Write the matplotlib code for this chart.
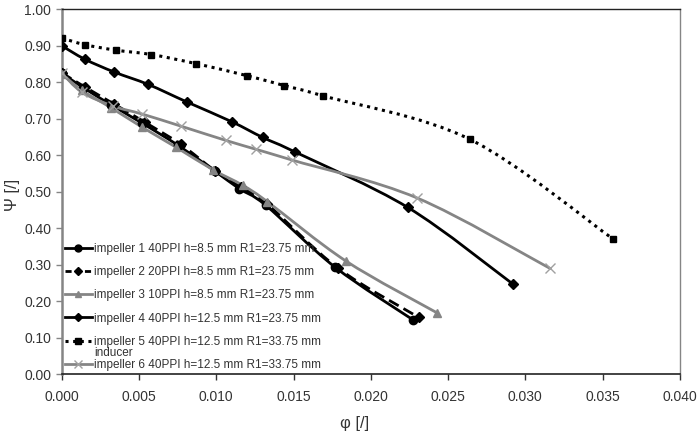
import numpy as np
import matplotlib
matplotlib.use("Agg")
import matplotlib.pyplot as plt
from matplotlib.path import Path
from matplotlib.patches import PathPatch
from matplotlib.lines import Line2D
from matplotlib.ticker import FormatStrFormatter, MultipleLocator

plt.rcParams["font.family"] = ["Liberation Sans", "DejaVu Sans"]

# impeller data: flow coefficient phi and head coefficient psi
phi_1 = [0.0, 0.0014, 0.0032, 0.0052, 0.0075, 0.0099, 0.0115, 0.0132, 0.0177, 0.0227]
psi_1 = [0.825, 0.785, 0.738, 0.688, 0.628, 0.557, 0.508, 0.463, 0.293, 0.150]

phi_2 = [0.0, 0.0015, 0.0034, 0.0054, 0.0077, 0.0099, 0.0116, 0.0133, 0.0179, 0.0231]
psi_2 = [0.826, 0.787, 0.740, 0.690, 0.630, 0.558, 0.512, 0.466, 0.290, 0.156]

phi_3 = [0.0, 0.0013, 0.0032, 0.0052, 0.0074, 0.0098, 0.0117, 0.0133, 0.0184, 0.0243]
psi_3 = [0.823, 0.778, 0.730, 0.677, 0.622, 0.560, 0.518, 0.473, 0.310, 0.168]

phi_4 = [0.0, 0.0015, 0.0034, 0.0056, 0.0081, 0.0110, 0.0130, 0.0151, 0.0224, 0.0292]
psi_4 = [0.900, 0.863, 0.828, 0.794, 0.746, 0.692, 0.649, 0.609, 0.457, 0.247]

phi_5 = [0.0, 0.0015, 0.0035, 0.0058, 0.0087, 0.0120, 0.0144, 0.0169, 0.0264, 0.0357]
psi_5 = [0.921, 0.903, 0.888, 0.876, 0.851, 0.818, 0.791, 0.763, 0.644, 0.370]

phi_6 = [0.0, 0.0013, 0.0033, 0.0052, 0.0077, 0.0106, 0.0126, 0.0149, 0.0230, 0.0316]
psi_6 = [0.826, 0.773, 0.735, 0.713, 0.680, 0.641, 0.616, 0.587, 0.483, 0.290]

labels = [
    "impeller 1 40PPI h=8.5 mm R1=23.75 mm",
    "impeller 2 20PPI h=8.5 mm R1=23.75 mm",
    "impeller 3 10PPI h=8.5 mm R1=23.75 mm",
    "impeller 4 40PPI h=12.5 mm R1=23.75 mm",
    "impeller 5 40PPI h=12.5 mm R1=33.75 mm",
    "impeller 6 40PPI h=12.5 mm R1=33.75 mm",
]


def smooth_path(x, y):
    # Excel-like smoothed line: Catmull-Rom segments drawn as cubic Bezier curves
    p = np.column_stack([x, y])
    verts = [p[0]]
    codes = [Path.MOVETO]
    n = len(p)
    for i in range(n - 1):
        p0 = p[i - 1] if i > 0 else p[i]
        p3 = p[i + 2] if i + 2 < n else p[i + 1]
        c1 = p[i] + (p[i + 1] - p0) / 6.0
        c2 = p[i + 1] - (p3 - p[i]) / 6.0
        verts += [c1, c2, p[i + 1]]
        codes += [Path.CURVE4] * 3
    return Path(verts, codes)


fig = plt.figure(figsize=(6.98, 4.34), dpi=100)
ax = fig.add_axes([0.0885, 0.1376, 0.8855, 0.841])

gray = "#858585"
styles = [
    (phi_1, psi_1, dict(color="black", ls="-", lw=2.0), dict(marker="o", ms=6, color="black")),
    (phi_2, psi_2, dict(color="black", ls=(0, (4, 2)), lw=2.0), dict(marker="D", ms=5, color="black")),
    (phi_3, psi_3, dict(color=gray, ls="-", lw=2.0), dict(marker="^", ms=6, color=gray)),
    (phi_4, psi_4, dict(color="black", ls="-", lw=2.0), dict(marker="D", ms=5, color="black")),
    (phi_5, psi_5, dict(color="black", ls=(0, (1, 1.5)), lw=2.2), dict(marker="s", ms=5, color="black")),
    (phi_6, psi_6, dict(color=gray, ls="-", lw=2.0), dict(marker="x", ms=7, mew=1.0, color="#a0a0a0")),
]
# shorter dash patterns so they show up on the short legend handles
legend_ls = ["-", (0, (2.2, 1.3)), "-", "-", (0, (1, 1.5)), "-"]

handles = []
for (x, y, lstyle, mstyle), lab, lls in zip(styles, labels, legend_ls):
    patch = PathPatch(smooth_path(x, y), fill=False, edgecolor=lstyle["color"],
                      linestyle=lstyle["ls"], linewidth=lstyle["lw"], zorder=2)
    ax.add_patch(patch)
    ax.plot(x, y, linestyle="none", zorder=3, **mstyle)
    handles.append(Line2D([], [], color=lstyle["color"], linestyle=lls,
                          linewidth=lstyle["lw"], marker=mstyle["marker"],
                          markersize=mstyle["ms"] - 1, markerfacecolor=mstyle["color"],
                          markeredgecolor=mstyle["color"]))

ax.set_xlim(0, 0.04)
ax.set_ylim(0, 1.0)
ax.xaxis.set_major_locator(MultipleLocator(0.005))
ax.yaxis.set_major_locator(MultipleLocator(0.1))
ax.xaxis.set_major_formatter(FormatStrFormatter("%.3f"))
ax.yaxis.set_major_formatter(FormatStrFormatter("%.2f"))
ax.tick_params(axis="both", labelsize=10, colors="#333333", direction="out", length=4, width=1)
ax.tick_params(axis="x", pad=7)
ax.tick_params(axis="y", colors=gray, labelcolor="#333333")

ax.spines["left"].set_color(gray)
ax.spines["left"].set_linewidth(1.8)
ax.spines["bottom"].set_color("#222222")
ax.spines["bottom"].set_linewidth(1.2)
ax.spines["top"].set_color("#222222")
ax.spines["top"].set_linewidth(1.0)
ax.spines["right"].set_color(gray)
ax.spines["right"].set_linewidth(1.0)

ax.set_xlabel("φ [/]", fontsize=12, color="#333333")
ax.set_ylabel("Ψ [/]", fontsize=12, color="#333333")
ax.xaxis.set_label_coords(0.474, -0.115)
ax.yaxis.set_label_coords(-0.068, 0.49)

leg = ax.legend(handles, labels, loc="upper left", bbox_to_anchor=(0.005, 0.36),
                frameon=False, fontsize=8.5, handlelength=2.3, handletextpad=0.2,
                labelspacing=0.95, borderpad=0, borderaxespad=0)
for t in leg.get_texts():
    t.set_color("#333333")
ax.text(0.053, 0.058, "inducer", transform=ax.transAxes, fontsize=8.5,
        color="#333333", va="center", ha="left")

fig.savefig("out.png", dpi=100)
